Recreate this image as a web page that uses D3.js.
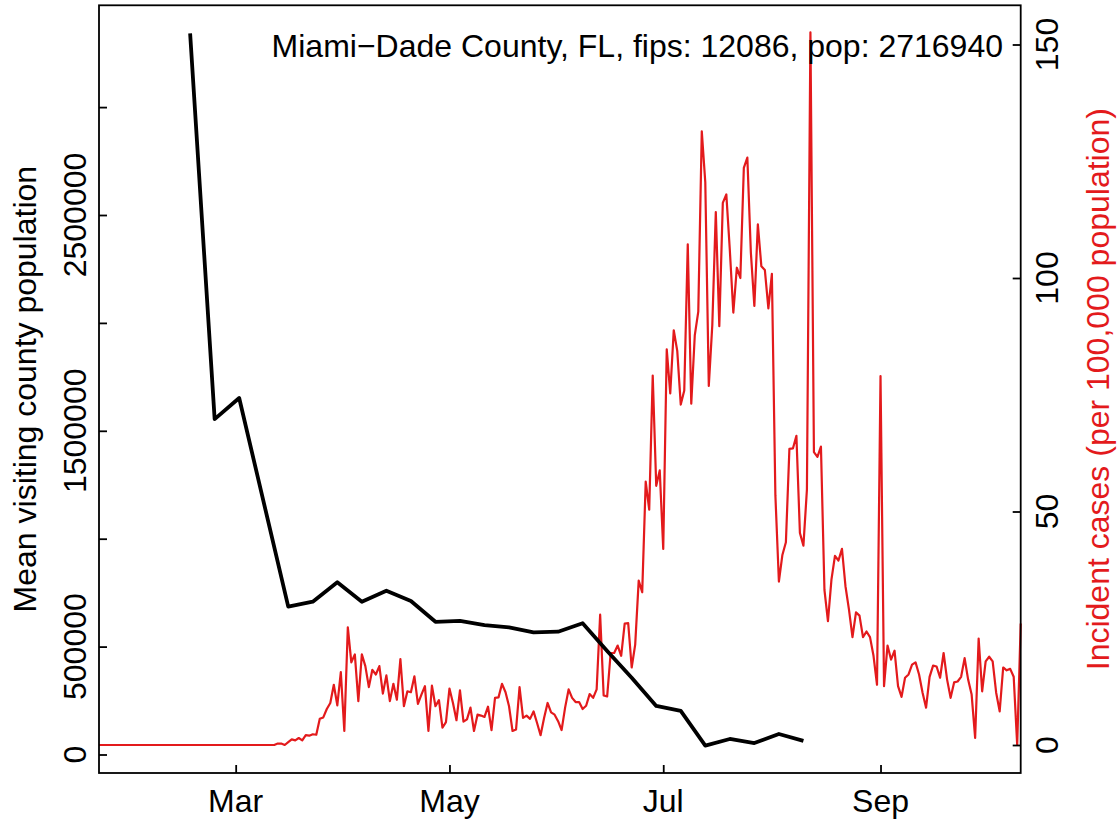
<!DOCTYPE html>
<html>
<head>
<meta charset="utf-8">
<script src="https://cdn.jsdelivr.net/npm/d3@7"></script>
<style>
  body { margin: 0; background: #fff; }
  text { font-family: "Liberation Sans", Arial, Helvetica, sans-serif; }
</style>
</head>
<body>
<div id="chart"></div>
<script>
// daily incident cases per 100,000, starting 2020-01-22
const caseStart = "2020-01-22";
const incidence = [
  0, 0, 0, 0, 0, 0, 0, 0, 0, 0, 0, 0, 0, 0, 0, 0, 0, 0, 0, 0,
  0, 0, 0, 0, 0, 0, 0, 0, 0, 0, 0, 0, 0, 0, 0, 0, 0, 0, 0, 0,
  0, 0, 0, 0, 0, 0, 0, 0, 0, 0, 0,
  0.3, 0.3, 0, 0.6, 1.2, 1.0, 1.5, 1.0, 2.1, 2.0, 2.3, 2.2,
  5.6, 5.9, 7.7, 9.0, 12.9, 8.5, 15.6, 3.0, 25.2, 17.7, 19.4, 9.4, 19.4, 16.9, 12.4,
  16.1, 15.1, 16.9, 11.0, 14.9, 9.4, 13.1, 9.7, 18.4, 8.3, 11.5, 11.3, 14.7, 8.8,
  10.8, 12.6, 3.0, 12.7, 8.3, 9.6, 3.7, 4.9, 12.1, 9.0, 5.3, 11.7, 5.0, 5.5, 8.0,
  3.0, 6.5, 6.3, 6.0, 8.2, 3.2, 10.1, 10.2, 13.1, 11.3, 8.3, 3.0, 3.3, 12.4, 5.8,
  6.3, 5.6, 7.2, 4.7, 2.1, 5.8, 9.0, 7.0, 6.5, 5.1, 3.2, 8.0, 11.9,
  10.1, 9.2, 9.2, 7.7, 8.4, 10.9, 10.1, 11.9, 27.9, 10.6, 10.4, 19.7, 19.7, 21.3,
  19.1, 26.0, 26.1, 16.6, 21.5, 35.2, 32.7,
  56.4, 50.4, 79.1, 55.5, 58.8, 42.0, 84.7, 75.3, 88.8, 84.4, 72.9, 75.9, 107.2,
  73.1, 87.7, 92.8, 131.4, 120.5, 76.9, 89.9,
  114.1, 89.7, 116.1, 117.9, 106.0, 92.6, 102.2, 100.0, 123.6, 125.8, 105.5, 94.0,
  111.5, 102.5, 101.7, 93.5, 100.9, 53.5, 35.0, 40.7, 43.4, 63.4, 63.5, 66.2, 45.4,
  42.7, 54.7, 152.6, 62.7, 61.7, 63.9,
  33.2, 26.5, 35.4, 40.5, 39.5, 42.0, 34.0, 29.0, 23.1, 28.4, 27.7, 23.1, 24.3, 23.1,
  19.1, 12.9, 79.0, 12.6, 21.3, 18.3, 20.2, 12.6, 10.3, 14.4, 15.1, 17.2, 17.7, 15.1,
  11.2, 8.0, 14.6, 17.0, 16.8, 14.4, 19.7, 14.0, 10.1, 13.4, 13.6, 14.6, 18.6, 14.0,
  10.8, 1.5, 22.8, 11.5, 17.9, 18.9, 17.9, 11.2, 7.2, 16.6, 16.0, 16.3, 14.6, 0, 26
];

// weekly mean visiting population
const visitWeeks = [
  "2020-02-17", "2020-02-24", "2020-03-02", "2020-03-16", "2020-03-23", "2020-03-30",
  "2020-04-06", "2020-04-13", "2020-04-20", "2020-04-27", "2020-05-04", "2020-05-11",
  "2020-05-18", "2020-05-25", "2020-06-01", "2020-06-08", "2020-06-15", "2020-06-22",
  "2020-06-29", "2020-07-06", "2020-07-13", "2020-07-20", "2020-07-27", "2020-08-03",
  "2020-08-10"
];
const visitPop = [
  3342000, 1554000, 1652000, 685000, 708000, 798000,
  708000, 759000, 711000, 615000, 619000, 600000,
  589000, 566000, 569000, 608000, 480000, 356000,
  225000, 202000, 41000, 72000, 53000, 95000,
  63000
];

const monthTicks = ["2020-03-01", "2020-05-01", "2020-07-01", "2020-09-01"];
const monthLabels = ["Mar", "May", "Jul", "Sep"];
const leftTicks = [0, 500000, 1000000, 1500000, 2000000, 2500000, 3000000];
const leftLabels = ["0", "500000", "", "1500000", "", "2500000", ""];
const rightTicks = [0, 50, 100, 150];

const titleText = "Miami\u2212Dade County, FL, fips: 12086, pop: 2716940";

drawChart();

function drawChart() {
  const width = 1119;
  const height = 822;
  const box = { left: 99, right: 1020.7, top: 5.3, bottom: 773 };
  const red = "#e31a1c";
  const fs = "32px";
  const parse = d3.utcParse("%Y-%m-%d");

  const svg = d3.select("#chart").append("svg")
    .attr("width", width)
    .attr("height", height);

  const start = parse(caseStart);
  const cases = incidence.map((v, i) => ({ date: d3.utcDay.offset(start, i), v }));
  const visits = visitWeeks.map((d, i) => ({ date: parse(d), v: visitPop[i] }));

  const x = d3.scaleUtc()
    .domain([start, cases[cases.length - 1].date])
    .range([box.left, box.right]);
  const yL = d3.scaleLinear().domain([0, 3000000]).range([754.5, 107.1]);
  const yR = d3.scaleLinear().domain([0, 150]).range([745, 44.5]);

  // red incidence line
  svg.append("path")
    .datum(cases)
    .attr("fill", "none")
    .attr("stroke", red)
    .attr("stroke-width", 2.2)
    .attr("stroke-linejoin", "round")
    .attr("d", d3.line().x((d) => x(d.date)).y((d) => yR(d.v)));

  // black mobility line
  svg.append("path")
    .datum(visits)
    .attr("fill", "none")
    .attr("stroke", "#000")
    .attr("stroke-width", 3.8)
    .attr("stroke-linejoin", "round")
    .attr("d", d3.line().x((d) => x(d.date)).y((d) => yL(d.v)));

  // frame
  svg.append("rect")
    .attr("x", box.left)
    .attr("y", box.top)
    .attr("width", box.right - box.left)
    .attr("height", box.bottom - box.top)
    .attr("fill", "none")
    .attr("stroke", "#000")
    .attr("stroke-width", 1.8);

  // axes, ticks pointing inward
  const xAxis = d3.axisBottom(x)
    .tickValues(monthTicks.map(parse))
    .tickSizeInner(-8)
    .tickSizeOuter(0)
    .tickFormat("");
  svg.append("g")
    .attr("transform", `translate(0,${box.bottom})`)
    .call(xAxis)
    .call((g) => g.select(".domain").remove())
    .selectAll("line").attr("stroke-width", 1.8);

  svg.append("g")
    .attr("transform", `translate(${box.left},0)`)
    .call(d3.axisLeft(yL).tickValues(leftTicks).tickSizeInner(-8).tickSizeOuter(0).tickFormat(""))
    .call((g) => g.select(".domain").remove())
    .selectAll("line").attr("stroke-width", 1.8);

  svg.append("g")
    .attr("transform", `translate(${box.right},0)`)
    .call(d3.axisRight(yR).tickValues(rightTicks).tickSizeInner(-8).tickSizeOuter(0).tickFormat(""))
    .call((g) => g.select(".domain").remove())
    .selectAll("line").attr("stroke-width", 1.8);

  // tick labels
  svg.selectAll(".xlab")
    .data(monthTicks)
    .join("text")
    .attr("x", (d) => x(parse(d)))
    .attr("y", 812)
    .attr("text-anchor", "middle")
    .style("font-size", fs)
    .text((d, i) => monthLabels[i]);

  svg.selectAll(".ylab")
    .data(leftTicks)
    .join("text")
    .attr("transform", (d) => `translate(86,${yL(d)}) rotate(-90)`)
    .attr("text-anchor", "middle")
    .style("font-size", fs)
    .text((d, i) => leftLabels[i]);

  svg.selectAll(".rlab")
    .data(rightTicks)
    .join("text")
    .attr("transform", (d) => `translate(1058,${yR(d)}) rotate(-90)`)
    .attr("text-anchor", "middle")
    .style("font-size", fs)
    .text((d) => d);

  // axis titles
  const midY = (box.top + box.bottom) / 2;
  svg.append("text")
    .attr("transform", `translate(35.5,${midY}) rotate(-90)`)
    .attr("text-anchor", "middle")
    .style("font-size", fs)
    .text("Mean visiting county population");
  svg.append("text")
    .attr("transform", `translate(1109,${midY}) rotate(-90)`)
    .attr("text-anchor", "middle")
    .style("font-size", fs)
    .attr("fill", red)
    .text("Incident cases (per 100,000 population)");

  // county label
  svg.append("text")
    .attr("x", 1003)
    .attr("y", 56.7)
    .attr("text-anchor", "end")
    .style("font-size", fs)
    .text(titleText);
}
</script>
</body>
</html>
